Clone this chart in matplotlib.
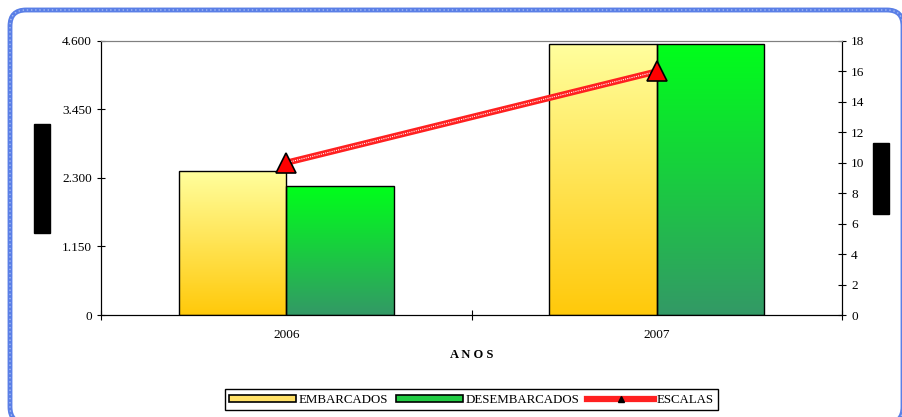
import numpy as np
import matplotlib
matplotlib.use("Agg")
import matplotlib.pyplot as plt
from matplotlib.patches import FancyBboxPatch, Rectangle, Patch
from matplotlib.lines import Line2D
from matplotlib.colors import LinearSegmentedColormap

plt.rcParams['font.family'] = ['Liberation Serif', 'DejaVu Serif']

# dados
anos = ['2006', '2007']
embarcados = [2420, 4550]
desembarcados = [2165, 4550]
escalas = [10, 16]
yticks_esq = [0, 1150, 2300, 3450, 4600]
yticks_esq_lbl = ['0', '1.150', '2.300', '3.450', '4.600']
yticks_dir = list(range(0, 19, 2))

fig = plt.figure(figsize=(9.02, 4.17), dpi=100)

# fundo com moldura azul
bg = fig.add_axes([0, 0, 1, 1], zorder=-5)
bg.set_xlim(0, 902)
bg.set_ylim(0, 417)
bg.axis('off')
for cor, lw, ls in [('#5A7FE6', 3.5, '-'), ('#A8BDF5', 1, (0, (1, 2)))]:
    bg.add_patch(FancyBboxPatch((10, -6), 893, 413, boxstyle='round,pad=0,rounding_size=16',
                                fill=False, edgecolor=cor, lw=lw, linestyle=ls))
# caixas pretas (titulos dos eixos)
bg.add_patch(Rectangle((34, 417 - 233), 16, 109, color='black'))
bg.add_patch(Rectangle((873, 417 - 214), 16, 71, color='black'))

ax = fig.add_axes([0.112, 0.2446, 0.8215, 0.6571])
ax2 = ax.twinx()

x = np.arange(len(anos))
w = 0.29
cm_amarelo = LinearSegmentedColormap.from_list('am', ['#FFC90A', '#FFFF9E'])
cm_verde = LinearSegmentedColormap.from_list('vd', ['#339966', '#00FF1A'])

grad = np.linspace(0, 1, 256).reshape(-1, 1)
for vals, off, cmap in [(embarcados, -w / 2, cm_amarelo), (desembarcados, w / 2, cm_verde)]:
    bars = ax.bar(x + off, vals, width=w, facecolor='none', edgecolor='black', lw=1, zorder=3)
    for b in bars:
        x0, h = b.get_x(), b.get_height()
        im = ax.imshow(grad, cmap=cmap, origin='lower', aspect='auto',
                       extent=(x0, x0 + w, 0, h), zorder=2)
        im.set_clip_path(b)

ax.set_xlim(-0.5, 1.5)
ax.set_ylim(0, 4600)
ax.set_yticks(yticks_esq)
ax.set_yticklabels(yticks_esq_lbl)
ax.set_xticks([-0.5, 0.5, 1.5])
ax.set_xticklabels([])
ax.set_xticks(x, minor=True)
ax.set_xticklabels(anos, minor=True)
ax.tick_params(axis='x', which='minor', length=0, pad=10)
ax.tick_params(axis='x', which='major', direction='inout', length=7)
ax.tick_params(axis='y', direction='inout', length=6, labelsize=9.5)
ax.tick_params(axis='x', which='both', labelsize=9.5)
ax.set_xlabel('A N O S', fontsize=9, fontweight='bold', labelpad=6)
ax.spines['top'].set_color('#808080')

ax2.plot(x, escalas, color='#FF2020', lw=4.5, zorder=4)
ax2.plot(x, escalas, color='white', lw=0.8, linestyle=(0, (1, 1)), zorder=5)
ax2.plot(x, escalas, linestyle='none', marker='^', markersize=15,
         markerfacecolor='red', markeredgecolor='black', markeredgewidth=1.2, zorder=6)
ax2.set_ylim(0, 18)
ax2.set_yticks(yticks_dir)
ax2.tick_params(axis='y', direction='inout', length=6, labelsize=9.5)
ax2.spines['top'].set_color('#808080')

handles = [
    Patch(facecolor='#FFE066', edgecolor='black', lw=1.2),
    Patch(facecolor='#22CC44', edgecolor='black', lw=1.2),
    Line2D([], [], color='#FF2020', lw=4.5, marker='^', markersize=5,
           markerfacecolor='black', markeredgecolor='black'),
]
leg = fig.legend(handles, ['EMBARCADOS', 'DESEMBARCADOS', 'ESCALAS'], ncol=3,
                 loc='center', bbox_to_anchor=(0.5227, 0.041), fontsize=9.3,
                 frameon=True, fancybox=False, edgecolor='black', handlelength=5.2,
                 handleheight=0.5, handletextpad=0.2, columnspacing=0.6,
                 borderpad=0.35, framealpha=1)
leg.get_frame().set_linewidth(1)

fig.savefig('out.png', dpi=100)
